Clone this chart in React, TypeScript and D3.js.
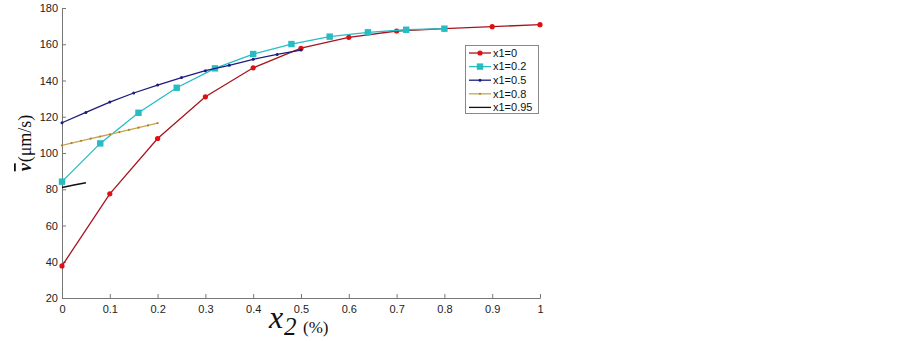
import { useEffect, useRef } from 'react';
import * as d3 from 'd3';

// x2 positions and mean velocity for each x1 series
const X_A = [0, 0.1, 0.2, 0.3, 0.4, 0.5, 0.6, 0.7, 0.8, 0.9, 1.0];
const V_A = [37.7, 77.5, 108, 131, 147, 157.8, 163.8, 167.3, 168.6, 169.7, 170.8];

const X_B = [0, 0.08, 0.16, 0.24, 0.32, 0.4, 0.48, 0.56, 0.64, 0.72, 0.8];
const V_B = [84.2, 105.3, 122.2, 136, 146.7, 154.6, 160.1, 164.2, 166.6, 168, 168.6];

const X_C = [0, 0.05, 0.1, 0.15, 0.2, 0.25, 0.3, 0.35, 0.4, 0.45, 0.5];
const V_C = [116.7, 122.4, 128.1, 133.1, 137.5, 141.6, 145.4, 148.4, 151.7, 154.4, 156.8];

const X_D = [0, 0.02, 0.04, 0.06, 0.08, 0.1, 0.12, 0.14, 0.16, 0.18, 0.2];
const V_D = [104.2, 105.5, 106.7, 107.9, 109.1, 110.3, 111.5, 112.8, 114, 115.2, 116.5];

const X_E = [0, 0.025, 0.05];
const V_E = [81, 82.3, 83.6];

const LABELS = ['x1=0', 'x1=0.2', 'x1=0.5', 'x1=0.8', 'x1=0.95'];
const X_TICKS = [0, 0.1, 0.2, 0.3, 0.4, 0.5, 0.6, 0.7, 0.8, 0.9, 1];
const Y_TICKS = [20, 40, 60, 80, 100, 120, 140, 160, 180];

const SERIES = [
  { xs: X_A, vs: V_A, line: '#a8141c', mark: '#e01010', shape: 'circle', r: 2.6 },
  { xs: X_B, vs: V_B, line: '#26bcc4', mark: '#26bcc4', shape: 'square', r: 3.2 },
  { xs: X_C, vs: V_C, line: '#1c1c80', mark: '#1c1c80', shape: 'circle', r: 1.5 },
  { xs: X_D, vs: V_D, line: '#c8a450', mark: '#a88420', shape: 'circle', r: 1.1 },
  { xs: X_E, vs: V_E, line: '#101010', mark: '#101010', shape: 'none', r: 0 },
];

export default function App() {
  const gRef = useRef<SVGGElement>(null);

  useEffect(() => {
    const svg = d3.select(gRef.current);
    svg.selectAll('*').remove();

    const x = d3.scaleLinear().domain([0, 1]).range([62, 540]);
    const y = d3.scaleLinear().domain([20, 180]).range([298, 8]);

    const axisColor = '#777';

    // axes (ticks drawn inward)
    const gx = svg.append('g').attr('transform', 'translate(0,298)')
      .call(d3.axisBottom(x).tickValues(X_TICKS).tickSize(-4).tickPadding(6).tickFormat((d) => String(d)));
    const gy = svg.append('g').attr('transform', 'translate(62,0)')
      .call(d3.axisLeft(y).tickValues(Y_TICKS).tickSize(-4).tickPadding(4));
    [gx, gy].forEach((g) => {
      g.select('.domain').attr('stroke', axisColor);
      g.selectAll('.tick line').attr('stroke', axisColor);
      g.selectAll('.tick text').attr('fill', '#222').style('font-family', 'Arial, Liberation Sans, sans-serif').style('font-size', '11px');
    });
    gx.selectAll('.tick text').attr('dy', '0.8em');

    const line = d3.line<[number, number]>().x((d) => x(d[0])).y((d) => y(d[1]));

    SERIES.forEach((s) => {
      const pts: [number, number][] = s.xs.map((xv, i) => [xv, s.vs[i]]);
      svg.append('path').attr('d', line(pts)).attr('fill', 'none')
        .attr('stroke', s.line).attr('stroke-width', s.shape === 'none' ? 1.6 : 1.3);
      if (s.shape === 'circle') {
        svg.append('g').selectAll('circle').data(pts).join('circle')
          .attr('cx', (d) => x(d[0])).attr('cy', (d) => y(d[1])).attr('r', s.r).attr('fill', s.mark);
      } else if (s.shape === 'square') {
        svg.append('g').selectAll('rect').data(pts).join('rect')
          .attr('x', (d) => x(d[0]) - s.r).attr('y', (d) => y(d[1]) - s.r)
          .attr('width', s.r * 2).attr('height', s.r * 2).attr('fill', s.mark);
      }
    });

    // legend
    const lg = svg.append('g');
    lg.append('rect').attr('x', 465.5).attr('y', 45.5).attr('width', 73).attr('height', 68)
      .attr('fill', '#fff').attr('stroke', '#888');
    SERIES.forEach((s, i) => {
      const ly = 53 + i * 13.6;
      lg.append('line').attr('x1', 469).attr('x2', 491).attr('y1', ly).attr('y2', ly)
        .attr('stroke', s.line).attr('stroke-width', 1.3);
      if (s.shape === 'circle') {
        lg.append('circle').attr('cx', 480).attr('cy', ly).attr('r', s.r).attr('fill', s.mark);
      } else if (s.shape === 'square') {
        lg.append('rect').attr('x', 480 - s.r).attr('y', ly - s.r).attr('width', s.r * 2).attr('height', s.r * 2).attr('fill', s.mark);
      }
      lg.append('text').attr('x', 493).attr('y', ly).attr('dy', '0.35em')
        .style('font-family', 'Arial, Liberation Sans, sans-serif').style('font-size', '11px')
        .attr('fill', '#111').text(LABELS[i]);
    });
  }, []);

  return (
    <svg width={903} height={341}
      style={{ position: 'absolute', left: 0, top: 0, background: '#fff' }}>
      <g ref={gRef} />
      <g transform="translate(31,143) rotate(-90)" fontFamily="'Liberation Serif', 'Times New Roman', serif" fill="#111">
        <text x={0} y={0} textAnchor="middle" fontSize={18}>
          <tspan fontStyle="italic" fontWeight="bold" textDecoration="overline">v</tspan>
          <tspan dx={1}>(μm/s)</tspan>
        </text>
      </g>
      <g fontFamily="'Liberation Serif', 'Times New Roman', serif" fill="#111">
        <text x={269} y={328} fontSize={32} fontStyle="italic">x</text>
        <text x={284} y={335} fontSize={25} fontStyle="italic">2</text>
        <text x={303} y={333} fontSize={17}>(%)</text>
      </g>
    </svg>
  );
}
